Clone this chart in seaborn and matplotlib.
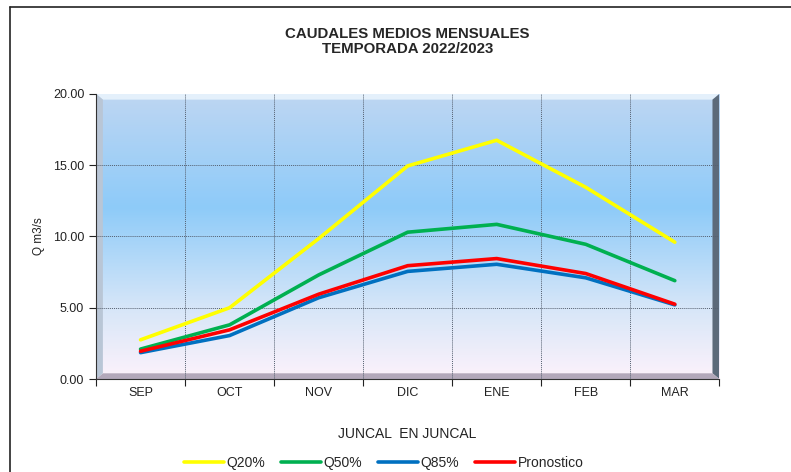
import numpy as np
import pandas as pd
import matplotlib
matplotlib.use('Agg')
import matplotlib.pyplot as plt
import seaborn as sns
from matplotlib.colors import LinearSegmentedColormap
from matplotlib.patches import Polygon
from matplotlib.lines import Line2D
from matplotlib.ticker import FixedLocator, FuncFormatter

meses = ['SEP', 'OCT', 'NOV', 'DIC', 'ENE', 'FEB', 'MAR']
q20 = [2.75, 5.0, 9.85, 14.95, 16.75, 13.45, 9.6]
q50 = [2.1, 3.8, 7.3, 10.3, 10.85, 9.45, 6.9]
q85 = [1.85, 3.05, 5.7, 7.55, 8.05, 7.1, 5.2]
pronostico = [1.95, 3.45, 5.95, 7.95, 8.45, 7.4, 5.25]

series = ['Q20%', 'Q50%', 'Q85%', 'Pronostico']
colores = ['#ffff00', '#00b050', '#0070c0', '#ff0000']

df = pd.DataFrame({
    'mes': meses * 4,
    'valor': q20 + q50 + q85 + pronostico,
    'serie': np.repeat(series, len(meses)),
})

sns.set_style('white')
plt.rcParams['font.family'] = ['Liberation Sans', 'DejaVu Sans']

fig = plt.figure(figsize=(7.91, 4.72), dpi=100)
ax = fig.add_axes([0.1214, 0.197, 0.788, 0.604])

# degradado de fondo
cmap = LinearSegmentedColormap.from_list(
    'fondo', [(0.0, '#fdf2fb'), (0.25, '#d6e6f8'), (0.6, '#8ecbf9'), (1.0, '#bed6f2')])
grad = np.linspace(0, 1, 256).reshape(-1, 1)
ax.imshow(grad, aspect='auto', cmap=cmap, origin='lower',
          extent=(0, 1, 0, 1), transform=ax.transAxes, zorder=0)

# bisel
t = ax.transAxes
bx, by = 0.011, 0.02
ax.add_patch(Polygon([(0, 1), (1, 1), (1 - bx, 1 - by), (bx, 1 - by)], closed=True,
                     transform=t, facecolor='#e4f0fb', edgecolor='none', zorder=1))
ax.add_patch(Polygon([(1, 1), (1, 0), (1 - bx, by), (1 - bx, 1 - by)], closed=True,
                     transform=t, facecolor='#5c6a7a', edgecolor='none', zorder=1))
ax.add_patch(Polygon([(0, 0), (1, 0), (1 - bx, by), (bx, by)], closed=True,
                     transform=t, facecolor='#b3a8ba', edgecolor='none', zorder=1))
ax.add_patch(Polygon([(0, 0), (0, 1), (bx, 1 - by), (bx, by)], closed=True,
                     transform=t, facecolor='#b9c6d6', edgecolor='none', zorder=1))

sns.lineplot(data=df, x='mes', y='valor', hue='serie', palette=colores,
             linewidth=2.6, sort=False, ax=ax, legend=False, zorder=3)

ax.set_xlim(-0.5, len(meses) - 0.5)
ax.set_ylim(0, 20)

ax.xaxis.set_major_locator(FixedLocator(np.arange(-0.5, len(meses), 1.0)))
ax.xaxis.set_minor_locator(FixedLocator(np.arange(len(meses))))
ax.set_xticklabels([], minor=False)
ax.set_xticklabels(meses, minor=True)
ax.tick_params(axis='x', which='major', length=5, width=0.8, color='#222222', direction='out', bottom=True)
ax.tick_params(axis='x', which='minor', length=0, labelsize=9, pad=6, labelcolor='#222222')
ax.set_yticks([0, 5, 10, 15, 20])
ax.yaxis.set_major_formatter(FuncFormatter(lambda v, p: f'{v:.2f}'))
ax.tick_params(axis='y', length=5, width=0.8, color='#222222', direction='out', left=True,
               labelsize=9, labelcolor='#222222')

ax.grid(False)
for xv in np.arange(0.5, len(meses) - 1, 1.0):
    ax.axvline(xv, color='#556070', linestyle=(0, (1, 1)), linewidth=0.7, zorder=2)
for yv in [5, 10, 15]:
    ax.axhline(yv, color='#556070', linestyle=(0, (1, 1)), linewidth=0.7, zorder=2)

for s in ['top', 'right']:
    ax.spines[s].set_visible(False)
for s in ['left', 'bottom']:
    ax.spines[s].set_color('#333333')
    ax.spines[s].set_linewidth(0.8)

ax.set_xlabel('JUNCAL  EN JUNCAL', fontsize=10, color='#222222', labelpad=20)
ax.set_ylabel('Q m3/s', fontsize=8.5, color='#222222', labelpad=6)

fig.text(0.515, 0.928, 'CAUDALES MEDIOS MENSUALES', ha='center', va='center',
         fontsize=10.8, fontweight='bold')
fig.text(0.515, 0.897, 'TEMPORADA 2022/2023', ha='center', va='center',
         fontsize=10.8, fontweight='bold')

# marco de la figura
fig.add_artist(Line2D([0.0125, 1.0], [0.985, 0.985], transform=fig.transFigure,
                      color='#222222', linewidth=1.2))
fig.add_artist(Line2D([0.0125, 0.0125], [0.0, 0.985], transform=fig.transFigure,
                      color='#222222', linewidth=1.2))

handles = [Line2D([], [], color=c, linewidth=2.6) for c in colores]
fig.legend(handles, series, loc='center', bbox_to_anchor=(0.485, 0.019), ncol=4,
           frameon=False, fontsize=10, handlelength=2.9, handletextpad=0.2,
           columnspacing=1.1, borderpad=0)

fig.savefig('out.png', dpi=100)
